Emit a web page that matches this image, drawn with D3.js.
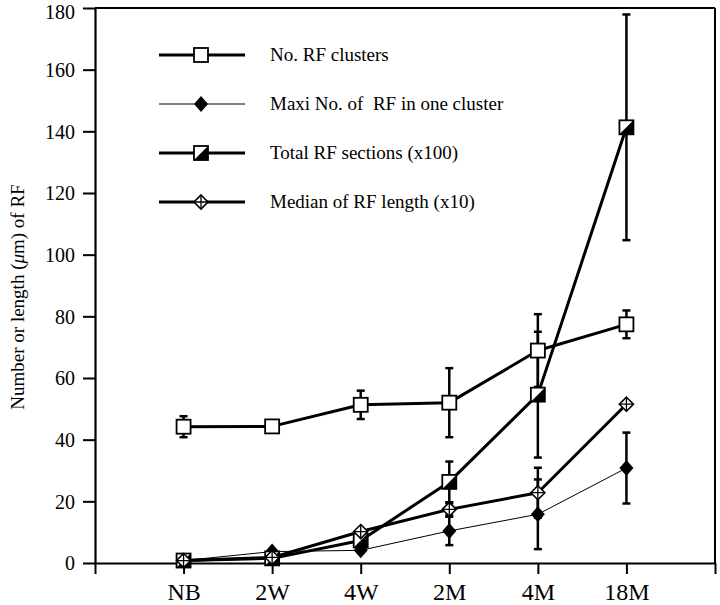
<!DOCTYPE html>
<html><head><meta charset="utf-8">
<script src="https://cdn.jsdelivr.net/npm/d3@7"></script>
<style>body{margin:0;background:#fff}svg{display:block}text{font-family:"Liberation Serif","Times New Roman","DejaVu Serif",serif;fill:#000}</style>
</head><body>
<script>
const categories = ["NB","2W","4W","2M","4M","18M"];
const yTicks = [0,20,40,60,80,100,120,140,160,180];
const clusters = [44.2, 44.3, 51.3, 52.0, 68.9, 77.4];
const clustersErr = [3.4, 0.8, 4.6, 11.2, 11.8, 4.5];
const maxi = [0.8, 3.7, 4.1, 10.4, 15.8, 30.8];
const maxiErr = [0, 0.5, 0.6, 4.6, 11.3, 11.5];
const sections = [0.8, 1.5, 7.3, 26.3, 54.6, 141.3];
const sectionsErr = [0, 0.5, 1.5, 6.6, 20.4, 36.6];
const median = [0.8, 1.8, 10.2, 17.4, 22.8, 51.5];
const medianErr = [0, 0.3, 0.8, 2.0, 8.1, 0.8];
const legendLabels = ["No. RF clusters", "Maxi No. of  RF in one cluster", "Total RF sections (x100)", "Median of RF length (x10)"];

const FONT = '"Liberation Serif","Times New Roman","DejaVu Serif",serif';
const W = 720, H = 605;
const svg = d3.select("body").append("svg").attr("width", W).attr("height", H).attr("font-family", FONT);
const x = d3.scaleLinear().domain([0, categories.length + 1]).range([95, 715]);
const y = d3.scaleLinear().domain([0, 180]).range([563, 8]);

// frame top/right
svg.append("line").attr("x1", x(0)).attr("x2", x(7)).attr("y1", y(180)).attr("y2", y(180)).attr("stroke", "#000").attr("stroke-width", 2);
svg.append("line").attr("x1", x(7)).attr("x2", x(7)).attr("y1", y(180)).attr("y2", y(0)).attr("stroke", "#000").attr("stroke-width", 2);

// y axis
const ya = svg.append("g").attr("transform", `translate(${x(0)},0)`)
  .call(d3.axisLeft(y).tickValues(yTicks).tickSize(12).tickPadding(8).tickSizeOuter(0));
ya.attr("font-family", FONT).attr("font-size", 20);
ya.select(".domain").attr("stroke-width", 2.2);
ya.selectAll(".tick line").attr("stroke-width", 2);
ya.selectAll("text").attr("font-family", FONT).attr("font-size", 20)
  .attr("dy", d => d === yTicks[yTicks.length - 1] ? "0.52em" : "0.34em");

// x axis
const xa = svg.append("g").attr("transform", `translate(0,${y(0)})`)
  .call(d3.axisBottom(x).tickValues(d3.range(0, categories.length + 2)).tickSize(11).tickPadding(9).tickSizeOuter(0)
    .tickFormat(i => (i >= 1 && i <= categories.length) ? categories[i - 1] : ""));
xa.attr("font-family", FONT).attr("font-size", 24);
xa.select(".domain").attr("stroke-width", 2.2);
xa.selectAll(".tick line").attr("stroke-width", 2);
xa.selectAll("text").attr("font-family", FONT).attr("font-size", 24);

// y label
const yl = svg.append("text").attr("transform", "translate(24,297) rotate(-90)").attr("text-anchor", "middle")
  .attr("font-size", 19).attr("font-family", FONT);
yl.append("tspan").text("Number or length (");
yl.append("tspan").attr("font-style", "italic").text("\u03bc");
yl.append("tspan").text("m) of RF");

const series = [
  {vals: clusters, err: clustersErr, w: 3, type: "square"},
  {vals: maxi, err: maxiErr, w: 1, type: "diamond"},
  {vals: sections, err: sectionsErr, w: 3, type: "half"},
  {vals: median, err: medianErr, w: 3, type: "cross"}
];

const line = d3.line().x((d, i) => x(i + 1)).y(d => y(d));
const gLines = svg.append("g"), gErr = svg.append("g"), gMk = svg.append("g");

function marker(g, type, cx, cy) {
  if (type === "square") {
    g.append("rect").attr("x", cx - 7).attr("y", cy - 7).attr("width", 14).attr("height", 14)
      .attr("fill", "#fff").attr("stroke", "#000").attr("stroke-width", 1.8);
  } else if (type === "diamond") {
    g.append("path").attr("d", `M${cx},${cy-8}L${cx+7},${cy}L${cx},${cy+8}L${cx-7},${cy}Z`).attr("fill", "#000");
  } else if (type === "half") {
    g.append("rect").attr("x", cx - 7).attr("y", cy - 7).attr("width", 14).attr("height", 14)
      .attr("fill", "#fff").attr("stroke", "#000").attr("stroke-width", 1.8);
    g.append("path").attr("d", `M${cx-7},${cy+7}L${cx+7},${cy-7}L${cx+7},${cy+7}Z`).attr("fill", "#000");
  } else {
    g.append("path").attr("d", `M${cx},${cy-7}L${cx+7},${cy}L${cx},${cy+7}L${cx-7},${cy}Z`)
      .attr("fill", "#fff").attr("stroke", "#000").attr("stroke-width", 1.6);
    g.append("path").attr("d", `M${cx},${cy-7}V${cy+7}M${cx-7},${cy}H${cx+7}`).attr("stroke", "#000").attr("stroke-width", 1.3);
  }
}

series.forEach(s => {
  gLines.append("path").attr("d", line(s.vals)).attr("fill", "none").attr("stroke", "#000").attr("stroke-width", s.w).attr("stroke-linejoin", "round");
  s.vals.forEach((v, i) => {
    const e = s.err[i];
    if (e > 0) {
      const cx = x(i + 1), t = y(v + e), b = y(Math.max(0, v - e));
      gErr.append("line").attr("x1", cx).attr("x2", cx).attr("y1", t).attr("y2", b).attr("stroke", "#000").attr("stroke-width", 2.5);
      [t, b].forEach(yy => gErr.append("line").attr("x1", cx - 4).attr("x2", cx + 4).attr("y1", yy).attr("y2", yy).attr("stroke", "#000").attr("stroke-width", 2.5));
    }
  });
});
series.forEach(s => s.vals.forEach((v, i) => marker(gMk, s.type, x(i + 1), y(v))));

// legend
const legendY = d3.scaleLinear().domain([0, 3]).range([55, 202]);
legendLabels.forEach((lab, i) => {
  const ly = legendY(i), s = series[i];
  svg.append("line").attr("x1", 159).attr("x2", 245).attr("y1", ly).attr("y2", ly).attr("stroke", "#000").attr("stroke-width", s.w);
  marker(svg, s.type, 201, ly);
  svg.append("text").attr("x", 270).attr("y", ly + 6).attr("font-size", 19).attr("font-family", FONT)
    .style("white-space", "pre").text(lab);
});
</script>
</body></html>
